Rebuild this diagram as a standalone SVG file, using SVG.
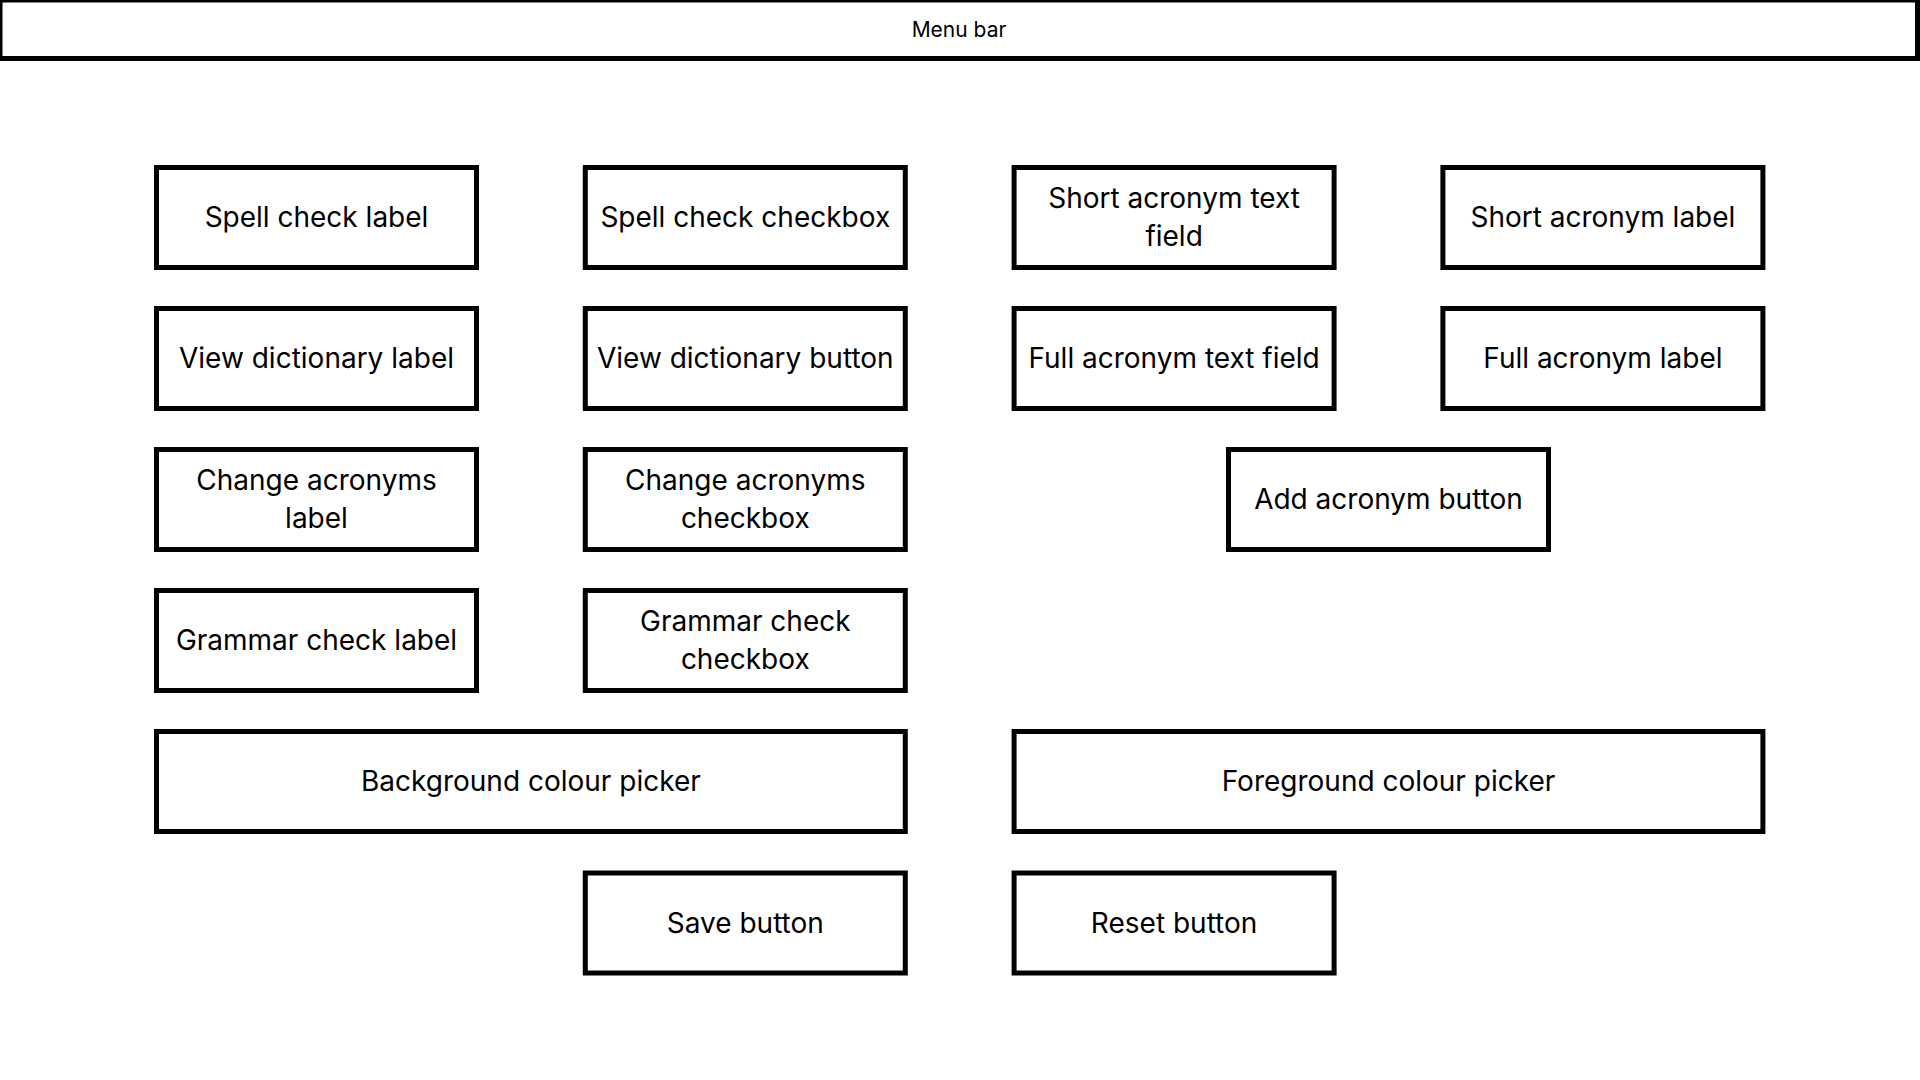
<svg xmlns="http://www.w3.org/2000/svg" width="1920" height="1080" viewBox="0 0 1920 1080">
<style>
.box{fill:#fff;stroke:#000;stroke-width:5}
.t{font-family:Inter,"Liberation Sans",sans-serif;font-size:28px;fill:#000;text-anchor:middle}
.m{font-family:Inter,"Liberation Sans",sans-serif;font-size:21px;fill:#000;text-anchor:middle}
</style>
<rect width="1920" height="1080" fill="#fff"/>
<g id="menu-bar"><rect class="box" x="0" y="0" width="1917.5" height="58.5"/><text class="m" x="959" y="37">Menu bar</text></g>
<g id="spell-check-label"><rect class="box" x="156.5" y="167.5" width="320" height="100"/><text class="t" x="316.5" y="227">Spell check label</text></g>
<g id="spell-check-checkbox"><rect class="box" x="585.3" y="167.5" width="320" height="100"/><text class="t" x="745.3" y="227">Spell check checkbox</text></g>
<g id="short-acronym-text-field"><rect class="box" x="1014.1" y="167.5" width="320" height="100"/><text class="t" x="1174.1" y="208">Short acronym text</text><text class="t" x="1174.1" y="246">field</text></g>
<g id="short-acronym-label"><rect class="box" x="1442.9" y="167.5" width="320" height="100"/><text class="t" x="1602.9" y="227">Short acronym label</text></g>
<g id="view-dictionary-label"><rect class="box" x="156.5" y="308.5" width="320" height="100"/><text class="t" x="316.5" y="368">View dictionary label</text></g>
<g id="view-dictionary-button"><rect class="box" x="585.3" y="308.5" width="320" height="100"/><text class="t" x="745.3" y="368">View dictionary button</text></g>
<g id="full-acronym-text-field"><rect class="box" x="1014.1" y="308.5" width="320" height="100"/><text class="t" x="1174.1" y="368">Full acronym text field</text></g>
<g id="full-acronym-label"><rect class="box" x="1442.9" y="308.5" width="320" height="100"/><text class="t" x="1602.9" y="368">Full acronym label</text></g>
<g id="change-acronyms-label"><rect class="box" x="156.5" y="449.5" width="320" height="100"/><text class="t" x="316.5" y="490">Change acronyms</text><text class="t" x="316.5" y="528">label</text></g>
<g id="change-acronyms-checkbox"><rect class="box" x="585.3" y="449.5" width="320" height="100"/><text class="t" x="745.3" y="490">Change acronyms</text><text class="t" x="745.3" y="528">checkbox</text></g>
<g id="add-acronym-button"><rect class="box" x="1228.5" y="449.5" width="320" height="100"/><text class="t" x="1388.5" y="509">Add acronym button</text></g>
<g id="grammar-check-label"><rect class="box" x="156.5" y="590.5" width="320" height="100"/><text class="t" x="316.5" y="650">Grammar check label</text></g>
<g id="grammar-check-checkbox"><rect class="box" x="585.3" y="590.5" width="320" height="100"/><text class="t" x="745.3" y="631">Grammar check</text><text class="t" x="745.3" y="669">checkbox</text></g>
<g id="background-colour-picker"><rect class="box" x="156.5" y="731.5" width="748.8" height="100"/><text class="t" x="530.9" y="791">Background colour picker</text></g>
<g id="foreground-colour-picker"><rect class="box" x="1014.1" y="731.5" width="748.8" height="100"/><text class="t" x="1388.5" y="791">Foreground colour picker</text></g>
<g id="save-button"><rect class="box" x="585.3" y="873" width="320" height="100"/><text class="t" x="745.3" y="932.5">Save button</text></g>
<g id="reset-button"><rect class="box" x="1014.1" y="873" width="320" height="100"/><text class="t" x="1174.1" y="932.5">Reset button</text></g>
<g id="connectors"/>
</svg>
